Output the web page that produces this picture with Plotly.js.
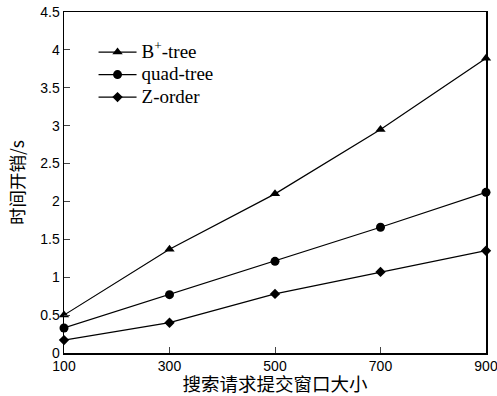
<!DOCTYPE html>
<html><head><meta charset="utf-8">
<script src="https://cdn.plot.ly/plotly-3.0.1.min.js"></script>
<style>html,body{margin:0;padding:0;background:#fff}#chart{width:497px;height:396px}</style>
</head><body><div id="chart"></div>
<script>
const windowSizes = [100, 300, 500, 700, 900];
const bplusTree = [0.50, 1.37, 2.10, 2.95, 3.89];
const quadTree = [0.33, 0.77, 1.21, 1.66, 2.12];
const zOrder = [0.17, 0.40, 0.78, 1.07, 1.35];
const seriesNames = ['B<sup>+</sup>-tree', 'quad-tree', 'Z-order'];
const yTicks = [0, 0.5, 1, 1.5, 2, 2.5, 3, 3.5, 4, 4.5];
const yTickText = ['0', '0.5', '1', '1.5', '2', '2.5', '3', '3.5', '4', '4.5'];

function tr(y, name, symbol, size) {
  return {x: windowSizes, y: y, name: '<span style="font-size:19px">' + name + '</span>',
    type: 'scatter', mode: 'lines+markers',
    cliponaxis: false,
    line: {color: '#000', width: 1.2},
    marker: {symbol: symbol, size: size, color: '#000'}};
}
const data = [
  tr(bplusTree, seriesNames[0], 'triangle-up', 9),
  tr(quadTree, seriesNames[1], 'circle', 9),
  tr(zOrder, seriesNames[2], 'diamond', 8)
];
const layout = {
  width: 497, height: 396,
  margin: {l: 64, r: 11, t: 12, b: 43},
  paper_bgcolor: '#fff', plot_bgcolor: '#fff',
  showlegend: true,
  legend: {x: 0.07, y: 0.93, xanchor: 'left', yanchor: 'top', bgcolor: 'rgba(0,0,0,0)',
    font: {family: 'Liberation Serif, Times New Roman, serif', size: 15, color: '#000'},
    tracegroupgap: 0, itemwidth: 38},
  xaxis: {range: [100, 900], tickvals: windowSizes, ticks: 'inside', ticklen: 6,
    ticklabeloverflow: 'allow',
    showline: true, mirror: true, linecolor: '#000', linewidth: 1.5, showgrid: false, zeroline: false,
    tickfont: {family: 'Liberation Sans, Arial, sans-serif', size: 14, color: '#000'},
    title: {text: '搜索请求提交窗口大小', standoff: 4,
      font: {family: 'Noto Sans CJK SC, sans-serif', size: 18.5, color: '#000'}}},
  yaxis: {range: [0, 4.5], tickvals: yTicks, ticktext: yTickText, ticks: 'inside', ticklen: 6,
    showline: true, mirror: true, linecolor: '#000', linewidth: 1.5, showgrid: false, zeroline: false,
    tickfont: {family: 'Liberation Sans, Arial, sans-serif', size: 14, color: '#000'},
    title: {text: '时间开销/s', standoff: 11,
      font: {family: 'Noto Sans CJK SC, sans-serif', size: 17.5, color: '#000'}}}
};
Plotly.newPlot('chart', data, layout, {displayModeBar: false, staticPlot: true});
</script></body></html>
